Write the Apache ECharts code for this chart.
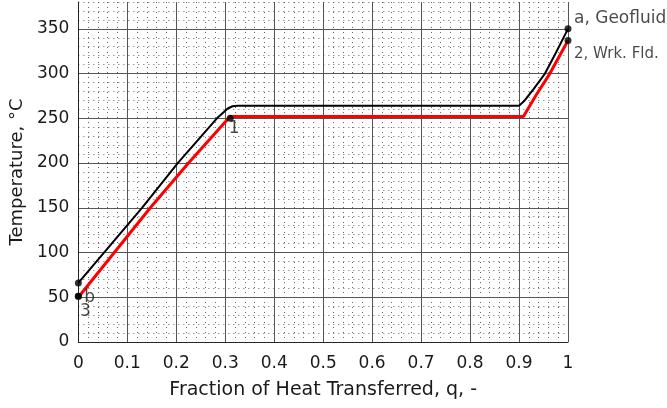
<!DOCTYPE html>
<html>
<head>
<meta charset="utf-8">
<script src="https://cdn.jsdelivr.net/npm/echarts@6/dist/echarts.min.js"></script>
<style>
  html, body { margin: 0; padding: 0; background: #fff; }
  #chart { width: 667px; height: 408px; }
</style>
</head>
<body>
<div id="chart"></div>
<script>
// Geofluid temperature vs. fraction of heat transferred
const geoQ = [0, 0.13, 0.203, 0.283, 0.295, 0.305, 0.315, 0.325, 0.90, 0.91, 0.93, 0.953, 0.975, 1];
const geoT = [66, 150, 200, 250, 256, 261, 263.5, 264, 264, 269, 283, 300, 323, 350];

// Working fluid temperature vs. fraction of heat transferred
const wfQ = [0, 0.0735, 0.147, 0.225, 0.31, 0.909, 0.935, 0.963, 1];
const wfT = [50, 100, 150, 200, 252, 252, 276, 300, 337];

// State points and their labels
const ptQ = [1, 1, 0.31, 0, 0, 0];
const ptT = [350, 337, 250, 66, 51, 51];
const ptLabel = ['a, Geofluid', '2, Wrk. Fld.', '1', '', 'b', '3'];

// Axis ticks
const xTicks = [0, 0.1, 0.2, 0.3, 0.4, 0.5, 0.6, 0.7, 0.8, 0.9, 1];
const yTicks = [0, 50, 100, 150, 200, 250, 300, 350];

const FONT = '"DejaVu Sans", sans-serif';
const TXT = '#1a1a1a';

// label placement for each state point: [dx, dy, align, fontSize]
const labelPlace = [
  [6, -10, 'left', 17],
  [6, 14, 'left', 15],
  [4, 10, 'center', 17],
  [0, 0, 'left', 17],
  [6, 1, 'left', 17],
  [7, 15, 'center', 17]
];

const chart = echarts.init(document.getElementById('chart'), null, { renderer: 'canvas' });

const pair = (xs, ys) => xs.map((x, i) => [x, ys[i]]);

const points = ptQ.map((q, i) => ({
  value: [q, ptT[i]],
  label: {
    show: ptLabel[i] !== '',
    formatter: ptLabel[i],
    position: 'inside',
    align: labelPlace[i][2],
    verticalAlign: 'middle',
    offset: [labelPlace[i][0], labelPlace[i][1]],
    fontSize: labelPlace[i][3],
    fontFamily: FONT,
    color: TXT
  }
}));

const grid = { left: 78, right: 99, top: 2, bottom: 66 };
const minorLine = { color: '#666', width: 1, type: [1, 4] };

chart.setOption({
  animation: false,
  backgroundColor: '#fff',
  grid: grid,
  xAxis: [
    {
      type: 'value', min: 0, max: 1, interval: 0.1,
      z: 3,
      name: 'Fraction of Heat Transferred, q, -',
      nameLocation: 'middle', nameGap: 39,
      nameTextStyle: { fontSize: 19, fontFamily: FONT, color: TXT },
      axisLine: { show: true, onZero: false, lineStyle: { color: '#262626', width: 1 } },
      axisTick: { show: false },
      axisLabel: {
        margin: 13, fontSize: 17, fontFamily: FONT, color: TXT,
        formatter: v => {
          const t = xTicks.find(k => Math.abs(k - v) < 1e-6);
          return t === undefined ? '' : String(t);
        }
      },
      splitLine: { show: true, lineStyle: { color: '#555', width: 1 } }
    },
    {
      // minor grid in x (every 0.02)
      type: 'value', min: 0, max: 1, interval: 0.02, position: 'bottom',
      z: 1,
      axisLine: { show: false }, axisTick: { show: false }, axisLabel: { show: false },
      splitLine: { show: true, lineStyle: minorLine }
    }
  ],
  yAxis: [
    {
      type: 'value', min: 0, max: 380, interval: 50,
      z: 3,
      name: 'Temperature, °C',
      nameLocation: 'middle', nameGap: 49,
      nameTextStyle: { fontSize: 18, fontFamily: FONT, color: TXT },
      axisLine: { show: true, onZero: false, lineStyle: { color: '#262626', width: 1 } },
      axisTick: { show: false },
      axisLabel: {
        margin: 9, fontSize: 17, fontFamily: FONT, color: TXT,
        showMaxLabel: false,
        formatter: v => (yTicks.indexOf(v) >= 0 ? String(v) : '')
      },
      splitLine: { show: true, showMaxLine: false, lineStyle: { color: '#555', width: 1 } }
    },
    {
      // minor grid in y (every 10)
      type: 'value', min: 0, max: 380, interval: 10, position: 'left',
      z: 1,
      axisLine: { show: false }, axisTick: { show: false }, axisLabel: { show: false },
      splitLine: { show: true, lineStyle: minorLine }
    }
  ],
  series: [
    {
      name: 'Geofluid', type: 'line', xAxisIndex: 0, yAxisIndex: 0,
      data: pair(geoQ, geoT), showSymbol: false, symbol: 'none',
      lineStyle: { color: '#000', width: 2 }, z: 4
    },
    {
      name: 'Working fluid', type: 'line', xAxisIndex: 0, yAxisIndex: 0,
      data: pair(wfQ, wfT), showSymbol: false, symbol: 'none',
      lineStyle: { color: '#ff0000', width: 3 }, z: 5
    },
    {
      name: 'State points', type: 'scatter', xAxisIndex: 0, yAxisIndex: 0,
      data: points, symbol: 'circle', symbolSize: 7,
      itemStyle: { color: '#000' }, z: 6
    }
  ]
});
</script>
</body>
</html>
